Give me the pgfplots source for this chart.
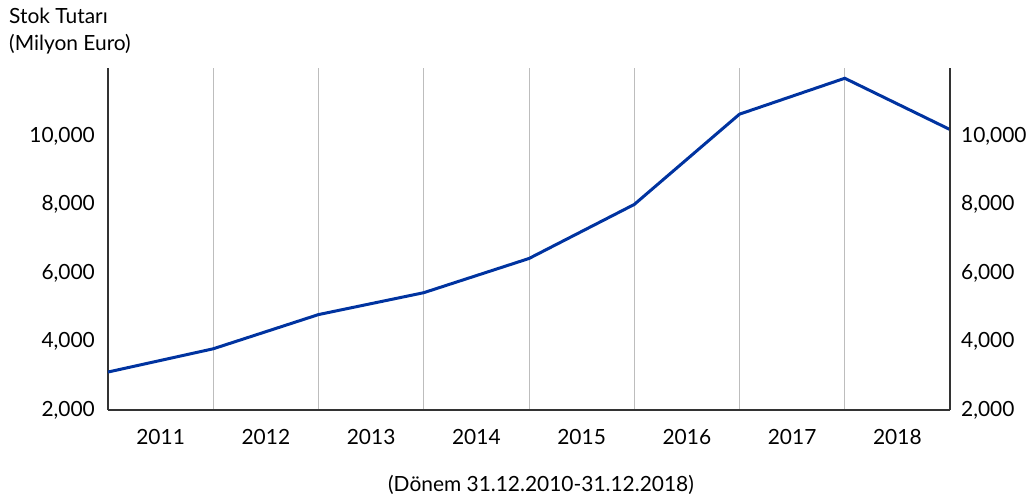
\documentclass[border=0pt]{standalone}
\usepackage{fontspec}
\setmainfont{Lato}
\usepackage{pgfplots}
\pgfplotsset{compat=1.18}
\definecolor{lineblue}{HTML}{0033A0}
\definecolor{axdark}{HTML}{333333}
\definecolor{gridgray}{HTML}{BDBDBD}
\begin{document}
\begin{tikzpicture}
\fontsize{21}{24}\selectfont
\useasboundingbox (-108bp,-89bp) rectangle (923bp,410bp);
\pgfplotsset{every axis/.append style={
  scale only axis, width=842bp, height=342bp,
  at={(0,0)}, anchor=south west,
  xmin=0, xmax=8, ymin=2000, ymax=12000,
  ytick={2000,4000,6000,8000,10000},
  scaled y ticks=false,
  /pgf/number format/.cd, 1000 sep={,}, assume math mode=true,
}}
\begin{axis}[
  axis x line=bottom, axis y line=left,
  axis line style={axdark, line width=1.5bp, -},
  xtick={0.5,1.5,2.5,3.5,4.5,5.5,6.5,7.5},
  xticklabels={2011,2012,2013,2014,2015,2016,2017,2018},
  minor xtick={1,2,3,4,5,6,7},
  xminorgrids,
  minor grid style={gridgray, line width=1bp},
  xticklabel style={font=\fontsize{21}{24}\selectfont, yshift=-12bp},
  yticklabel style={font=\fontsize{21}{24}\selectfont, xshift=-6bp},
  major tick length=0pt, minor tick length=0pt,
  clip=false,
]
\addplot[lineblue, line width=3bp, no marks] coordinates {
  (0,3110) (1,3790) (2,4790) (3,5430) (4,6430) (5,8010) (6,10650) (7,11700) (8,10200)
};
\end{axis}
\begin{axis}[
  axis x line=none, axis y line*=right,
  axis line style={axdark, line width=1.5bp, -},
  yticklabel style={font=\fontsize{21}{24}\selectfont, xshift=4bp},
  major tick length=0pt,
]
\end{axis}
\node[anchor=north west, align=left, font=\fontsize{21}{27}\selectfont, inner sep=0pt] at (-99bp,402bp) {Stok Tutarı\\(Milyon Euro)};
\node[font=\fontsize{21}{24}\selectfont] at (433bp,-75bp) {(Dönem 31.12.2010-31.12.2018)};
\end{tikzpicture}
\end{document}
